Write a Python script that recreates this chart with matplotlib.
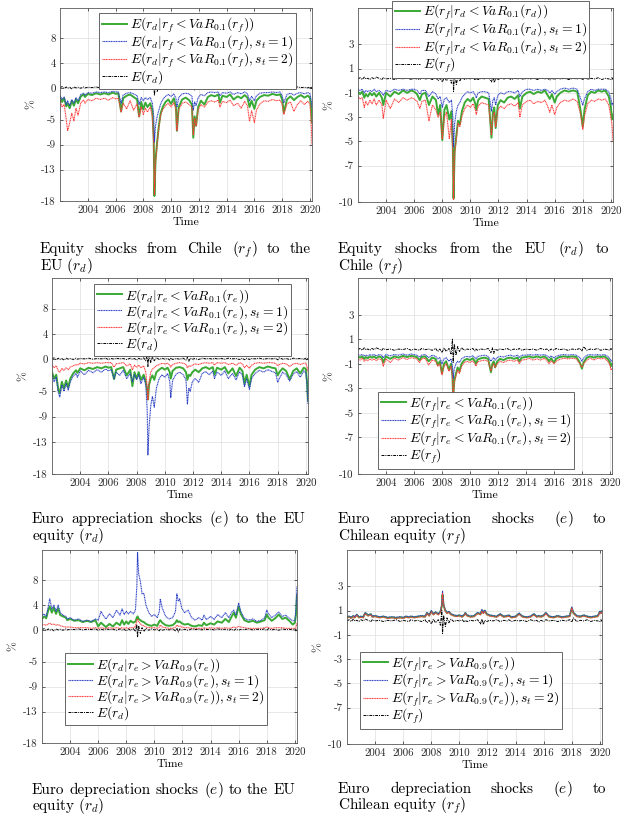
import numpy as np
import matplotlib
matplotlib.use("Agg")
import matplotlib.pyplot as plt

plt.rcParams['font.family'] = 'cmr10'
plt.rcParams['mathtext.fontset'] = 'cm'
plt.rcParams['axes.unicode_minus'] = False
plt.rcParams['axes.formatter.use_mathtext'] = True

# ---------------- data ----------------
dates = [2002.00, 2002.15, 2002.30, 2002.45, 2002.55, 2002.70, 2002.85, 2003.00, 2003.15, 2003.30,
         2003.50, 2003.70, 2003.80, 2004.00, 2004.30, 2004.60, 2004.90, 2005.20, 2005.50, 2005.80,
         2006.00, 2006.20, 2006.40, 2006.55, 2006.80, 2007.05, 2007.30, 2007.55, 2007.70, 2007.85,
         2008.00, 2008.15, 2008.30, 2008.50, 2008.65, 2008.75, 2008.80, 2008.88, 2009.00, 2009.12,
         2009.25, 2009.40, 2009.60, 2009.80, 2010.00, 2010.20, 2010.35, 2010.42, 2010.55, 2010.80,
         2011.05, 2011.30, 2011.50, 2011.60, 2011.70, 2011.80, 2011.95, 2012.15, 2012.40, 2012.65,
         2012.90, 2013.15, 2013.40, 2013.52, 2013.70, 2014.00, 2014.25, 2014.50, 2014.80, 2015.05,
         2015.30, 2015.50, 2015.65, 2015.80, 2016.00, 2016.15, 2016.40, 2016.70, 2017.00, 2017.30,
         2017.60, 2017.85, 2018.00, 2018.12, 2018.35, 2018.60, 2018.85, 2019.10, 2019.35, 2019.60,
         2019.85, 2020.00, 2020.08, 2020.15]

E_rd = [0.1, 0.25, -0.05, 0.2, 0.0, 0.15, -0.1, 0.2, 0.05, 0.15,
        0.0, 0.2, 0.05, 0.15, 0.1, 0.2, 0.05, 0.15, 0.1, 0.2,
        0.0, 0.15, 0.05, 0.2, 0.1, 0.15, 0.0, 0.2, 0.05, 0.15,
        -0.1, 0.2, 0.0, 0.25, -0.2, 0.9, -1.1, 0.7, -0.5, 0.4,
        -0.2, 0.3, 0.0, 0.2, 0.05, 0.15, -0.1, 0.25, 0.0, 0.15,
        0.05, 0.2, -0.1, 0.35, -0.3, 0.2, 0.05, 0.15, 0.0, 0.2,
        0.1, 0.15, 0.05, 0.2, 0.1, 0.15, 0.05, 0.2, 0.1, 0.15,
        0.0, 0.2, -0.05, 0.2, 0.0, 0.15, 0.1, 0.2, 0.05, 0.15,
        0.1, 0.2, -0.05, 0.25, 0.05, 0.15, 0.0, 0.2, 0.1, 0.15,
        0.05, 0.2, -0.1, 0.2]

E_rf = [0.15, 0.25, 0.1, 0.3, 0.15, 0.2, 0.1, 0.25, 0.15, 0.3,
        0.2, 0.1, 0.25, 0.15, 0.2, 0.1, 0.2, 0.15, 0.25, 0.1,
        0.2, 0.15, 0.1, 0.25, 0.15, 0.2, 0.1, 0.25, 0.0, 0.2,
        -0.1, 0.3, 0.0, 0.25, -0.2, 1.0, -0.9, 0.6, -0.3, 0.4,
        0.0, 0.3, 0.1, 0.2, 0.15, 0.25, 0.05, 0.2, 0.1, 0.2,
        0.15, 0.25, -0.1, 0.3, -0.15, 0.2, 0.1, 0.2, 0.15, 0.25,
        0.1, 0.2, 0.15, 0.25, 0.1, 0.2, 0.15, 0.2, 0.1, 0.25,
        0.15, 0.2, 0.05, 0.2, 0.1, 0.25, 0.15, 0.2, 0.1, 0.2,
        0.15, 0.25, 0.05, 0.4, 0.1, 0.2, 0.15, 0.25, 0.1, 0.2,
        0.15, 0.1, 0.25, 0.1]

# Panel 1: equity shocks from Chile to EU
p1_all = [-1.4, -2.2, -1.6, -2.9, -2.4, -3.2, -2.0, -2.8, -1.8, -2.4,
          -1.3, -1.0, -1.4, -0.9, -1.1, -0.8, -1.0, -0.8, -1.0, -0.7,
          -0.9, -0.8, -3.7, -1.6, -1.2, -1.0, -1.4, -1.8, -4.5, -2.2,
          -3.4, -2.3, -3.0, -2.4, -3.5, -8.0, -17.2, -11.5, -8.5, -6.0,
          -4.0, -3.0, -2.2, -1.8, -2.5, -1.6, -3.0, -6.8, -3.0, -1.8,
          -1.5, -1.9, -2.6, -7.9, -4.5, -6.0, -3.0, -2.0, -2.6, -1.4,
          -1.1, -1.3, -1.0, -2.3, -1.2, -1.4, -1.0, -1.8, -1.3, -1.6,
          -1.1, -1.5, -3.0, -2.0, -3.3, -2.0, -1.4, -1.1, -1.2, -0.9,
          -1.1, -1.0, -1.8, -3.9, -1.8, -1.3, -1.9, -1.4, -1.1, -1.5,
          -1.2, -1.5, -3.0, -5.5]
p1_s1 = [-1.2, -1.8, -1.4, -2.6, -2.0, -2.8, -1.8, -2.4, -1.5, -2.0,
         -1.0, -0.8, -1.1, -0.7, -0.8, -0.6, -0.7, -0.6, -0.7, -0.5,
         -0.6, -0.6, -2.4, -1.1, -0.8, -0.7, -0.9, -1.2, -2.6, -1.5,
         -2.0, -1.5, -1.8, -1.5, -2.4, -4.5, -8.6, -6.0, -4.5, -3.5,
         -2.5, -1.8, -1.3, -1.0, -1.3, -0.9, -1.6, -3.0, -1.5, -0.9,
         -0.8, -0.9, -1.3, -3.5, -2.2, -2.8, -1.5, -1.0, -1.2, -0.7,
         -0.6, -0.7, -0.6, -1.2, -0.7, -0.8, -0.6, -1.0, -0.7, -0.9,
         -0.6, -0.9, -2.0, -1.3, -2.0, -1.2, -0.8, -0.7, -0.7, -0.6,
         -0.7, -0.6, -1.2, -2.3, -1.0, -0.8, -1.1, -0.8, -0.7, -0.9,
         -0.7, -0.9, -1.8, -3.0]
p1_s2 = [-2.0, -3.0, -2.6, -5.0, -6.8, -5.5, -4.0, -5.2, -3.2, -4.3,
         -2.3, -1.9, -2.4, -1.8, -2.0, -1.6, -1.8, -1.6, -1.9, -1.5,
         -1.7, -1.6, -3.8, -2.4, -3.3, -2.0, -3.5, -2.5, -4.6, -3.0,
         -4.2, -3.2, -3.8, -3.0, -4.5, -9.0, -17.0, -12.0, -8.8, -6.3,
         -4.3, -3.4, -2.8, -2.4, -3.0, -2.3, -3.4, -6.8, -3.4, -2.4,
         -2.2, -2.6, -3.0, -7.5, -4.8, -6.0, -3.4, -2.6, -3.0, -2.2,
         -2.0, -2.2, -1.9, -3.0, -2.1, -2.3, -1.9, -2.8, -2.4, -3.2,
         -2.1, -2.8, -5.3, -3.6, -5.5, -3.5, -2.5, -2.0, -2.1, -1.8,
         -2.0, -1.9, -2.6, -4.2, -2.5, -2.2, -3.7, -2.6, -2.0, -2.6,
         -2.1, -2.5, -5.0, -9.0]

# Panel 2: equity shocks from EU to Chile
p2_all = [-0.9, -1.1, -0.9, -1.4, -1.1, -1.3, -1.0, -1.2, -1.0, -1.3,
          -1.0, -1.4, -2.0, -1.0, -1.3, -0.9, -1.1, -0.8, -1.0, -0.8,
          -0.9, -1.1, -1.6, -1.1, -1.0, -2.0, -1.3, -1.6, -2.8, -2.0,
          -4.9, -2.4, -2.0, -3.2, -2.5, -5.5, -9.7, -5.8, -4.5, -3.3,
          -3.6, -2.5, -1.8, -1.5, -1.7, -1.4, -1.9, -2.4, -1.6, -1.3,
          -1.4, -1.5, -4.7, -2.6, -2.2, -3.9, -2.0, -1.6, -1.8, -1.4,
          -1.3, -1.5, -1.2, -2.3, -1.3, -1.0, -0.9, -1.1, -0.9, -1.0,
          -0.8, -1.2, -1.5, -1.1, -1.8, -1.3, -1.0, -0.8, -0.9, -0.8,
          -0.9, -2.5, -3.8, -2.4, -1.2, -0.9, -1.0, -0.8, -0.9, -0.8,
          -1.3, -2.2, -3.2, -2.8]
p2_s1 = [-0.7, -0.8, -0.7, -1.0, -0.8, -0.9, -0.8, -0.9, -0.7, -0.9,
         -0.8, -1.0, -1.2, -0.8, -0.9, -0.7, -0.8, -0.7, -0.8, -0.7,
         -0.7, -0.8, -1.1, -0.8, -0.8, -1.3, -0.9, -1.1, -1.5, -1.3,
         -2.2, -1.5, -1.4, -1.8, -1.6, -3.0, -5.5, -3.5, -2.5, -2.0,
         -1.8, -1.4, -1.1, -0.9, -1.0, -0.9, -1.2, -1.4, -1.0, -0.9,
         -0.9, -1.0, -2.5, -1.6, -1.4, -2.0, -1.2, -1.0, -1.1, -0.9,
         -0.9, -1.0, -0.8, -1.3, -0.9, -0.7, -0.7, -0.8, -0.7, -0.8,
         -0.7, -0.8, -1.0, -0.8, -1.1, -0.9, -0.7, -0.6, -0.7, -0.6,
         -0.7, -1.5, -2.0, -1.5, -0.9, -0.7, -0.8, -0.7, -0.7, -0.7,
         -0.9, -1.5, -2.0, -1.8]
p2_s2 = [-1.3, -1.5, -1.4, -2.2, -1.7, -2.0, -1.6, -1.9, -1.5, -2.0,
         -1.6, -2.0, -3.1, -1.6, -2.3, -1.5, -1.8, -1.4, -1.6, -1.4,
         -1.5, -1.7, -2.3, -1.7, -1.6, -3.3, -2.0, -2.4, -3.0, -2.6,
         -4.8, -3.0, -2.6, -4.8, -3.2, -6.0, -9.8, -6.0, -4.8, -3.5,
         -3.8, -2.9, -2.3, -2.0, -2.2, -1.9, -2.4, -2.8, -2.1, -1.8,
         -1.9, -2.0, -4.5, -2.9, -2.6, -3.8, -2.4, -2.1, -2.3, -2.0,
         -1.9, -2.1, -1.8, -3.0, -2.0, -1.7, -1.6, -1.9, -1.7, -1.8,
         -1.6, -2.1, -2.6, -2.0, -2.8, -2.2, -1.8, -1.6, -1.7, -1.5,
         -1.7, -2.8, -4.0, -2.9, -1.9, -1.6, -1.7, -1.5, -1.6, -1.5,
         -2.0, -3.0, -3.6, -5.0]

# Panel 3: euro appreciation shocks to EU equity
p3_all = [-2.0, -3.0, -2.4, -4.8, -5.3, -3.5, -4.6, -3.3, -4.4, -3.0,
          -2.2, -1.7, -2.1, -1.4, -1.7, -1.3, -1.5, -1.2, -1.4, -1.1,
          -1.3, -1.2, -3.1, -1.6, -1.4, -1.2, -2.5, -1.6, -4.2, -2.0,
          -3.0, -2.0, -3.2, -2.4, -3.5, -5.0, -6.3, -4.0, -3.0, -2.5,
          -3.2, -2.0, -1.6, -1.3, -1.6, -1.3, -2.0, -3.0, -1.8, -1.3,
          -1.2, -1.4, -2.0, -3.2, -2.4, -2.6, -2.0, -1.6, -2.0, -1.4,
          -1.2, -1.5, -1.2, -2.4, -1.3, -1.6, -1.2, -2.2, -1.4, -2.6,
          -1.3, -1.8, -3.8, -2.4, -4.2, -2.4, -1.6, -1.2, -1.4, -1.1,
          -1.3, -1.4, -2.5, -2.0, -1.4, -1.8, -3.1, -1.8, -1.4, -2.2,
          -1.3, -1.5, -3.5, -6.5]
p3_s1 = [-2.4, -3.5, -2.8, -5.2, -5.9, -4.0, -5.0, -3.8, -4.8, -3.5,
         -2.6, -2.2, -2.8, -1.8, -2.4, -1.7, -2.1, -1.6, -2.0, -1.5,
         -1.8, -1.6, -3.0, -2.0, -2.5, -1.7, -3.0, -2.2, -3.5, -2.4,
         -3.2, -2.4, -3.8, -2.8, -4.0, -8.0, -15.0, -10.7, -7.3, -5.8,
         -7.5, -4.5, -3.0, -2.4, -2.8, -2.2, -3.5, -6.0, -3.3, -2.3,
         -2.0, -2.4, -3.2, -7.0, -4.5, -5.0, -3.5, -3.0, -3.6, -2.2,
         -1.9, -2.4, -1.8, -3.0, -2.0, -2.5, -1.8, -3.0, -2.2, -3.2,
         -1.9, -2.5, -4.3, -3.0, -4.7, -3.0, -2.2, -1.7, -2.0, -1.6,
         -1.9, -2.1, -3.6, -3.0, -2.0, -2.4, -3.4, -2.3, -1.9, -2.8,
         -1.8, -2.1, -4.0, -7.0]
p3_s2 = [-0.9, -1.3, -1.0, -1.8, -2.0, -1.4, -1.7, -1.3, -1.6, -1.2,
         -1.0, -0.8, -0.9, -0.6, -0.7, -0.5, -0.6, -0.5, -0.6, -0.5,
         -0.5, -0.5, -1.2, -0.7, -0.6, -0.5, -1.0, -0.7, -1.6, -0.9,
         -1.2, -0.9, -1.3, -1.0, -2.0, -4.5, -6.3, -3.5, -2.0, -1.5,
         -1.3, -1.0, -0.8, -0.6, -0.7, -0.6, -0.9, -1.2, -0.8, -0.6,
         -0.5, -0.6, -0.8, -1.3, -1.0, -1.1, -0.9, -0.7, -0.8, -0.6,
         -0.5, -0.6, -0.5, -0.9, -0.5, -0.6, -0.5, -0.8, -0.6, -0.9,
         -0.5, -0.7, -1.3, -0.9, -1.4, -0.9, -0.6, -0.5, -0.6, -0.5,
         -0.5, -0.6, -1.0, -0.8, -0.6, -0.7, -1.1, -0.7, -0.6, -0.8,
         -0.6, -0.6, -1.2, -2.0]

# Panel 4: euro appreciation shocks to Chilean equity
p4_all = [-0.4, -0.5, -0.4, -0.6, -0.45, -0.55, -0.4, -0.5, -0.4, -0.55,
          -0.4, -0.5, -0.9, -0.4, -0.6, -0.4, -0.5, -0.35, -0.45, -0.35,
          -0.4, -0.45, -0.7, -0.45, -0.4, -0.8, -0.5, -0.6, -1.1, -0.8,
          -1.8, -1.0, -0.8, -1.5, -1.0, -2.0, -3.8, -2.4, -1.8, -1.3,
          -1.6, -1.0, -0.7, -0.6, -0.7, -0.55, -0.8, -1.0, -0.65, -0.55,
          -0.5, -0.6, -1.7, -1.0, -0.8, -1.3, -0.8, -0.6, -0.7, -0.55,
          -0.5, -0.6, -0.5, -0.8, -0.5, -0.45, -0.4, -0.5, -0.4, -0.5,
          -0.4, -0.55, -0.8, -0.55, -0.9, -0.6, -0.45, -0.4, -0.45, -0.4,
          -0.45, -0.9, -1.4, -0.9, -0.5, -0.4, -0.5, -0.4, -0.45, -0.4,
          -0.6, -0.9, -1.2, -1.0]
p4_s1 = [-0.25, -0.3, -0.25, -0.35, -0.3, -0.35, -0.25, -0.3, -0.25, -0.35,
         -0.25, -0.3, -0.5, -0.25, -0.35, -0.25, -0.3, -0.2, -0.3, -0.2,
         -0.25, -0.3, -0.45, -0.3, -0.25, -0.5, -0.3, -0.4, -0.6, -0.5,
         -1.0, -0.6, -0.5, -0.8, -0.6, -1.2, -2.2, -1.4, -1.0, -0.8,
         -0.9, -0.6, -0.45, -0.4, -0.45, -0.35, -0.5, -0.6, -0.4, -0.35,
         -0.3, -0.4, -0.8, -0.6, -0.5, -0.7, -0.5, -0.4, -0.45, -0.35,
         -0.3, -0.4, -0.3, -0.5, -0.3, -0.3, -0.25, -0.3, -0.25, -0.3,
         -0.25, -0.35, -0.5, -0.35, -0.55, -0.4, -0.3, -0.25, -0.3, -0.25,
         -0.3, -0.5, -0.8, -0.55, -0.3, -0.25, -0.3, -0.25, -0.3, -0.25,
         -0.4, -0.6, -0.8, -0.7]
p4_s2 = [-0.6, -0.7, -0.55, -0.8, -0.65, -0.75, -0.6, -0.7, -0.6, -0.75,
         -0.6, -0.7, -1.2, -0.6, -0.9, -0.55, -0.7, -0.5, -0.65, -0.5,
         -0.55, -0.6, -0.9, -0.6, -0.55, -1.1, -0.7, -0.8, -1.2, -1.0,
         -1.9, -1.2, -1.0, -1.6, -1.2, -2.1, -3.8, -2.5, -2.0, -1.5,
         -1.8, -1.2, -0.9, -0.8, -0.9, -0.75, -1.0, -1.2, -0.85, -0.75,
         -0.7, -0.8, -1.6, -1.2, -1.0, -1.3, -1.0, -0.8, -0.9, -0.75,
         -0.7, -0.8, -0.7, -1.0, -0.7, -0.65, -0.55, -0.7, -0.6, -0.7,
         -0.55, -0.75, -1.0, -0.75, -1.0, -0.8, -0.65, -0.55, -0.6, -0.55,
         -0.6, -1.0, -1.3, -1.0, -0.7, -0.55, -0.7, -0.55, -0.6, -0.55,
         -0.8, -1.1, -1.5, -1.4]

# Panel 5: euro depreciation shocks to EU equity
p5_all = [1.8, 2.2, 1.9, 3.2, 3.8, 2.8, 3.6, 2.6, 3.5, 2.4,
          2.2, 2.0, 1.6, 1.8, 1.5, 1.6, 1.3, 1.5, 1.3, 1.6,
          0.6, 1.2, 0.8, 0.5, 1.0, 0.6, 1.2, 0.8, 1.6, 0.9,
          1.4, 1.0, 1.5, 1.2, 1.4, 2.0, 2.2, 1.8, 1.6, 1.4,
          1.3, 1.0, 0.8, 0.7, 0.9, 0.7, 1.4, 1.6, 1.2, 0.8,
          0.7, 0.8, 1.2, 1.6, 1.3, 1.4, 1.1, 0.9, 1.0, 0.7,
          0.6, 0.8, 0.7, 1.2, 0.8, 1.1, 0.9, 1.4, 1.2, 1.8,
          1.3, 2.2, 2.8, 2.0, 3.8, 2.6, 1.6, 1.3, 1.5, 1.2,
          1.4, 1.6, 2.5, 2.0, 1.5, 1.9, 2.5, 1.8, 2.0, 1.5,
          0.9, 1.2, 2.5, 5.6]
p5_s1 = [2.3, 2.6, 2.2, 3.8, 5.0, 3.4, 4.0, 3.0, 4.0, 2.8,
         2.4, 2.2, 1.8, 2.0, 1.6, 1.8, 1.4, 1.6, 1.4, 1.8,
         1.6, 3.0, 2.2, 1.8, 2.6, 2.0, 3.2, 2.4, 3.4, 2.5,
         3.0, 2.6, 3.0, 2.6, 3.2, 7.0, 12.4, 9.0, 7.8, 5.8,
         5.9, 4.0, 2.8, 2.2, 2.5, 2.0, 3.0, 5.0, 3.6, 2.2,
         1.8, 2.0, 3.0, 5.8, 4.6, 5.0, 3.5, 2.8, 3.2, 2.0,
         1.6, 2.0, 1.6, 2.4, 1.7, 2.2, 1.7, 2.5, 2.0, 2.8,
         2.0, 2.9, 3.2, 2.4, 4.3, 3.0, 1.9, 1.6, 1.8, 1.4,
         1.6, 2.0, 3.2, 2.6, 2.0, 2.4, 2.9, 2.2, 2.4, 1.9,
         1.5, 1.6, 3.5, 7.0]
p5_s2 = [0.8, 0.9, 0.8, 1.0, 1.1, 0.9, 1.0, 0.8, 0.9, 0.7,
         0.6, 0.5, 0.5, 0.5, 0.4, 0.4, 0.4, 0.4, 0.3, 0.4,
         0.3, 0.4, 0.3, 0.3, 0.4, 0.3, 0.4, 0.3, 0.4, 0.3,
         0.4, 0.3, 0.4, 0.4, 0.6, 1.5, 1.8, 1.4, 1.0, 0.8,
         0.7, 0.5, 0.4, 0.4, 0.4, 0.3, 0.5, 0.8, 0.5, 0.4,
         0.3, 0.3, 0.5, 0.8, 0.6, 0.7, 0.5, 0.4, 0.4, 0.3,
         0.3, 0.3, 0.3, 0.4, 0.3, 0.4, 0.3, 0.4, 0.3, 0.4,
         0.3, 0.4, 0.5, 0.4, 0.6, 0.5, 0.4, 0.3, 0.3, 0.3,
         0.3, 0.4, 0.5, 0.4, 0.3, 0.4, 0.4, 0.4, 0.3, 0.3,
         0.3, 0.3, 0.5, 1.2]

# Panel 6: euro depreciation shocks to Chilean equity
p6_all = [0.45, 0.5, 0.4, 0.55, 0.45, 0.65, 0.45, 0.5, 0.45, 0.8,
          0.6, 0.7, 0.5, 0.55, 0.45, 0.5, 0.4, 0.45, 0.4, 0.45,
          0.4, 0.5, 0.45, 0.5, 0.45, 0.5, 0.55, 0.5, 0.8, 0.6,
          0.95, 0.7, 0.85, 0.7, 0.9, 1.4, 2.3, 1.4, 1.0, 0.8,
          0.9, 0.7, 0.6, 0.55, 0.6, 0.5, 0.65, 0.8, 0.6, 0.5,
          0.55, 0.8, 0.7, 1.0, 0.8, 1.0, 0.7, 0.6, 0.55, 0.5,
          0.7, 0.5, 0.55, 0.6, 0.45, 0.5, 0.75, 0.5, 0.45, 0.5,
          0.7, 0.5, 0.55, 0.5, 0.6, 0.8, 0.5, 0.45, 0.55, 0.45,
          0.5, 0.55, 1.2, 0.8, 0.55, 0.5, 0.6, 0.5, 0.45, 0.5,
          0.55, 0.9, 0.8, 0.95]
p6_s1 = [0.5, 0.55, 0.45, 0.6, 0.5, 0.7, 0.5, 0.55, 0.5, 0.85,
         0.65, 0.75, 0.55, 0.6, 0.5, 0.55, 0.45, 0.5, 0.45, 0.5,
         0.45, 0.55, 0.5, 0.55, 0.5, 0.55, 0.6, 0.55, 0.85, 0.65,
         1.0, 0.75, 0.9, 0.75, 0.95, 1.5, 2.6, 1.5, 1.05, 0.85,
         0.95, 0.75, 0.65, 0.6, 0.65, 0.55, 0.7, 0.85, 0.65, 0.55,
         0.6, 0.85, 0.75, 1.1, 0.85, 1.05, 0.75, 0.65, 0.6, 0.55,
         0.75, 0.55, 0.6, 0.65, 0.5, 0.55, 0.8, 0.55, 0.5, 0.55,
         0.75, 0.55, 0.6, 0.55, 0.65, 0.85, 0.55, 0.5, 0.6, 0.5,
         0.55, 0.6, 1.3, 0.85, 0.6, 0.55, 0.65, 0.55, 0.5, 0.55,
         0.6, 0.95, 0.85, 1.0]
p6_s2 = [0.4, 0.45, 0.35, 0.5, 0.4, 0.6, 0.4, 0.45, 0.4, 0.75,
         0.55, 0.65, 0.45, 0.5, 0.4, 0.45, 0.35, 0.4, 0.35, 0.4,
         0.35, 0.45, 0.4, 0.45, 0.4, 0.45, 0.5, 0.45, 0.75, 0.55,
         0.9, 0.65, 0.8, 0.65, 0.85, 1.4, 2.4, 1.4, 0.95, 0.75,
         0.85, 0.65, 0.55, 0.5, 0.55, 0.45, 0.6, 0.75, 0.55, 0.45,
         0.5, 0.75, 0.65, 0.95, 0.75, 0.95, 0.65, 0.55, 0.5, 0.45,
         0.65, 0.45, 0.5, 0.55, 0.4, 0.45, 0.7, 0.45, 0.4, 0.45,
         0.65, 0.45, 0.5, 0.45, 0.55, 0.75, 0.45, 0.4, 0.5, 0.4,
         0.45, 0.5, 1.2, 0.75, 0.5, 0.45, 0.55, 0.45, 0.4, 0.45,
         0.5, 0.85, 0.75, 0.9]

yt_left = [-18, -13, -9, -5, 0, 4, 8]
yt_right = [-10, -7, -5, -3, -1, 1, 3]
xt = [2004, 2006, 2008, 2010, 2012, 2014, 2016, 2018, 2020]

def labs(a, b, rel, q, st_paren=False):
    base = r"E(r_%s|r_%s%sVaR_{%s}(r_%s)" % (a, b, rel, q, b)
    l1 = r"$" + base + r")$"
    l2 = r"$" + base + r",s_t=1)$"
    if st_paren:
        l3 = r"$" + base + r"),s_t=2)$"
    else:
        l3 = r"$" + base + r",s_t=2)$"
    l4 = r"$E(r_%s)$" % a
    return [l1, l2, l3, l4]

# ---------------- figure ----------------
W, H = 621, 817
fig = plt.figure(figsize=(W / 100, H / 100), dpi=100)

GREEN = '#3aa935'
BLUE = '#2b3fc4'
RED = '#ff3b3b'

# leg: (x, y, anchor) -- anchor 'top' uses y as top edge, 'bottom' as bottom edge
panels = [
    dict(rect=(60, 8, 312, 201), left=True, series=(p1_all, p1_s1, p1_s2, E_rd),
         labels=labs('d', 'f', '<', '0.1'), leg=(99, 13, 'top')),
    dict(rect=(358, 8, 613, 202), left=False, series=(p2_all, p2_s1, p2_s2, E_rf),
         labels=labs('f', 'd', '<', '0.1'), leg=(392, 0.5, 'top')),
    dict(rect=(52, 278, 308, 474), left=True, series=(p3_all, p3_s1, p3_s2, E_rd),
         labels=labs('d', 'e', '<', '0.1'), leg=(94, 284, 'top')),
    dict(rect=(358, 278, 612, 474), left=False, series=(p4_all, p4_s1, p4_s2, E_rf),
         labels=labs('f', 'e', '<', '0.1'), leg=(378, 469, 'bottom')),
    dict(rect=(42, 550, 297, 743), left=True, series=(p5_all, p5_s1, p5_s2, E_rd),
         labels=labs('d', 'e', '>', '0.9', True), leg=(65, 725, 'bottom')),
    dict(rect=(347, 550, 602, 744), left=False, series=(p6_all, p6_s1, p6_s2, E_rf),
         labels=labs('f', 'e', '>', '0.9', True), leg=(360, 729, 'bottom')),
]

for p in panels:
    l, t, r, b = p['rect']
    ax = fig.add_axes([l / W, 1 - b / H, (r - l) / W, (b - t) / H])
    s_all, s1, s2, ek = p['series']
    lab = p['labels']
    ax.plot(dates, s_all, color=GREEN, lw=1.4, label=lab[0])
    ax.plot(dates, s1, color=BLUE, lw=0.8, ls=(0, (1, 0.5)), label=lab[1])
    ax.plot(dates, s2, color=RED, lw=0.8, ls=(0, (1, 0.5)), label=lab[2])
    ax.plot(dates, ek, color='black', lw=0.7, ls=(0, (3, 1, 1, 1)), label=lab[3])
    ax.set_xlim(2002.0, 2020.15)
    if p['left']:
        ax.set_ylim(-18, 12.8)
        ax.set_yticks(yt_left)
        ax.set_yticklabels([str(v) for v in yt_left])
    else:
        ax.set_ylim(-10, 6)
        ax.set_yticks(yt_right)
        ax.set_yticklabels([str(v) for v in yt_right])
    ax.set_xticks(xt)
    ax.set_xticklabels([str(v) for v in xt])
    ax.grid(True, color='0.87', lw=0.5)
    ax.set_axisbelow(True)
    ax.tick_params(direction='in', length=2, width=0.5, labelsize=7.8, pad=3,
                   top=True, right=True, colors='0.15')
    for sp in ax.spines.values():
        sp.set_linewidth(0.6)
        sp.set_color('0.35')
    ax.set_xlabel('Time', fontsize=8.5, labelpad=2)
    ax.set_ylabel('%', fontsize=8.5, labelpad=4)
    lx, ly, anc = p['leg']
    loc = 'upper left' if anc == 'top' else 'lower left'
    leg = ax.legend(loc=loc, bbox_to_anchor=(lx / W, 1 - ly / H),
                    bbox_transform=fig.transFigure, fontsize=9.8, frameon=True,
                    fancybox=False, edgecolor='0.3', framealpha=1,
                    borderaxespad=0, handlelength=1.85, handletextpad=0.2,
                    labelspacing=-0.12, borderpad=0.2)
    leg.get_frame().set_linewidth(0.6)

# ---------------- captions (justified first line) ----------------
captions = [
    (40, 311, 253, 270, ["Equity", "shocks", "from", "Chile", r"$(r_f)$", "to", "the"], r"EU $(r_d)$"),
    (338, 609, 253, 270, ["Equity", "shocks", "from", "the", "EU", r"$(r_d)$", "to"], r"Chile $(r_f)$"),
    (32, 305, 523, 540, ["Euro", "appreciation", "shocks", r"$(e)$", "to", "the", "EU"], r"equity $(r_d)$"),
    (338, 606, 523, 540, ["Euro", "appreciation", "shocks", r"$(e)$", "to"], r"Chilean equity $(r_f)$"),
    (32, 295, 794, 810, ["Euro", "depreciation", "shocks", r"$(e)$", "to", "the", "EU"], r"equity $(r_d)$"),
    (338, 606, 793, 809, ["Euro", "depreciation", "shocks", r"$(e)$", "to"], r"Chilean equity $(r_f)$"),
]
CFS = 11
fig.canvas.draw()
renderer = fig.canvas.get_renderer()
for x0, x1, y1, y2, words, line2 in captions:
    texts = [fig.text(0, 1 - y1 / H, w, fontsize=CFS, va='baseline', ha='left') for w in words]
    widths = [t.get_window_extent(renderer).width for t in texts]
    gap = max(3.0, ((x1 - x0) - sum(widths)) / (len(words) - 1))
    x = x0
    for t, w in zip(texts, widths):
        t.set_x(x / W)
        x += w + gap
    fig.text(x0 / W, 1 - y2 / H, line2, fontsize=CFS, va='baseline', ha='left')

fig.savefig('out.png', dpi=100)
